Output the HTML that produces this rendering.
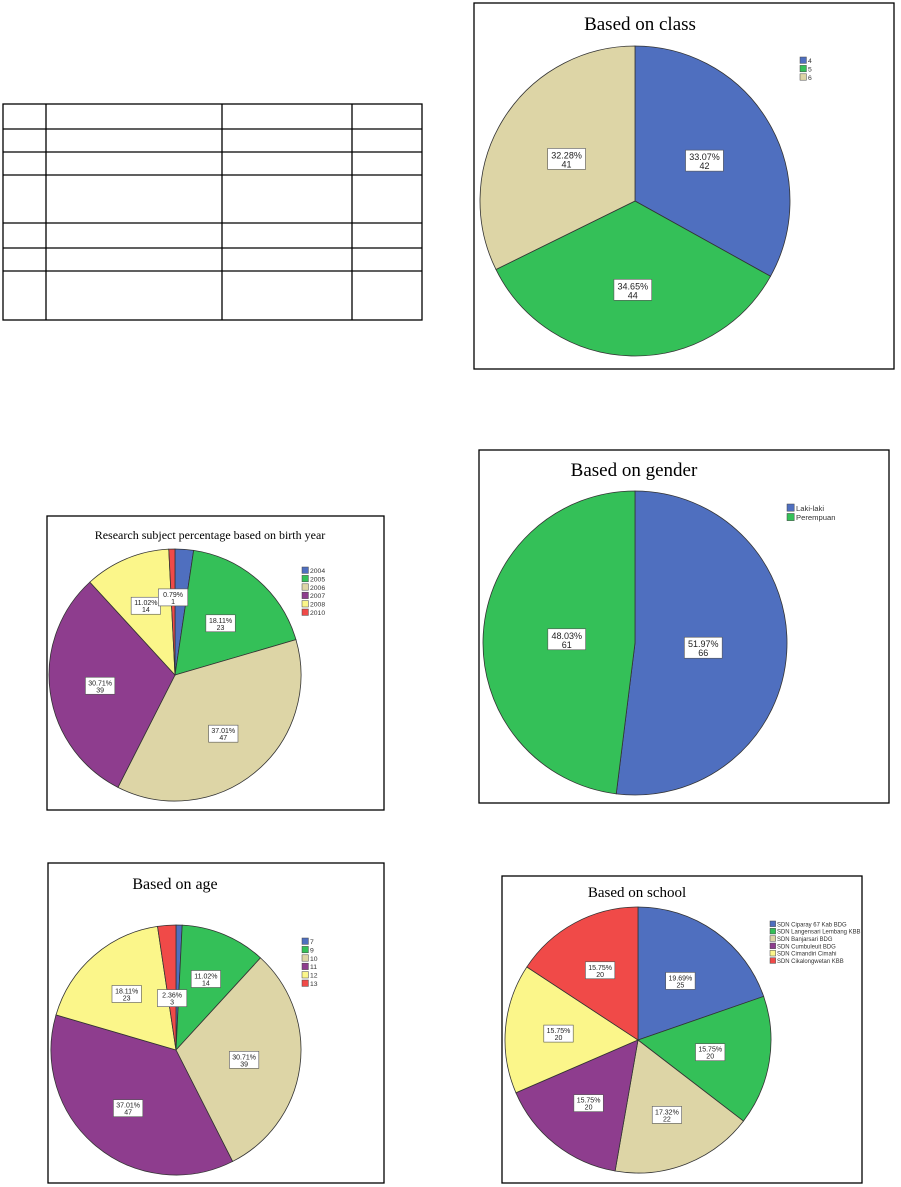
<!DOCTYPE html>
<html><head><meta charset="utf-8"><style>
body{margin:0;background:#fff;width:901px;height:1187px;overflow:hidden}
svg{position:absolute;left:0;top:0}
</style></head><body>
<svg id="s" width="901" height="1187" xmlns="http://www.w3.org/2000/svg" font-family="Liberation Sans, sans-serif">
<g stroke="#000" stroke-width="1.3" fill="none">
<rect x="3" y="104" width="419" height="216"/>
<line x1="3" y1="129" x2="422" y2="129"/><line x1="3" y1="152" x2="422" y2="152"/>
<line x1="3" y1="175" x2="422" y2="175"/><line x1="3" y1="223" x2="422" y2="223"/>
<line x1="3" y1="248" x2="422" y2="248"/><line x1="3" y1="271" x2="422" y2="271"/>
<line x1="46" y1="104" x2="46" y2="320"/><line x1="222" y1="104" x2="222" y2="320"/>
<line x1="352" y1="104" x2="352" y2="320"/>
<rect x="474" y="3" width="420" height="366"/>
<rect x="479" y="450" width="410" height="353"/>
<rect x="47" y="516" width="337" height="294"/>
<rect x="48" y="863" width="336" height="320"/>
<rect x="502" y="876" width="360" height="307"/>
</g>
<g font-family="Liberation Serif, serif" fill="#000">
<text x="640" y="30" font-size="19" text-anchor="middle">Based on class</text>
<text x="634" y="476" font-size="19" text-anchor="middle">Based on gender</text>
<text x="210" y="539" font-size="12" text-anchor="middle">Research subject percentage based on birth year</text>
<text x="175" y="889" font-size="16" text-anchor="middle">Based on age</text>
<text x="637" y="897" font-size="15" text-anchor="middle">Based on school</text>
</g>
<g id="p"></g>
</svg>
<script>
var C={b:"#4f6fbf",g:"#34c058",t:"#ddd5a6",p:"#8e3d8e",y:"#fbf68a",r:"#f04a48"};
var g=document.getElementById('p'),NS="http://www.w3.org/2000/svg";
function el(t,a,tx){var e=document.createElementNS(NS,t);for(var k in a)e.setAttribute(k,a[k]);if(tx)e.textContent=tx;g.appendChild(e);return e;}
function pie(cx,cy,r,sl,lf,lx,ly,leg,lfs){
 var tot=0;sl.forEach(function(s){tot+=s[0]});var a=0;
 sl.forEach(function(s){var a2=a+s[0]/tot*2*Math.PI;
  var x1=cx+r*Math.sin(a),y1=cy-r*Math.cos(a),x2=cx+r*Math.sin(a2),y2=cy-r*Math.cos(a2);
  el('path',{d:"M"+cx+","+cy+"L"+x1+","+y1+"A"+r+","+r+" 0 "+((a2-a)>Math.PI?1:0)+" 1 "+x2+","+y2+"Z",fill:C[s[1]],stroke:"#333","stroke-width":0.8});
  s.m=(a+a2)/2;a=a2;});
 sl.forEach(function(s){if(!s[2])return;var f=s[4]||0.55,mx=cx+r*f*Math.sin(s.m),my=cy-r*f*Math.cos(s.m);
  var w=lf*4.2;el('rect',{x:mx-w/2,y:my-lf-1,width:w,height:lf*2+3,fill:"#fff",stroke:"#555","stroke-width":0.6});
  el('text',{x:mx,y:my,"font-size":lf,"text-anchor":"middle",fill:"#222"},s[2]);
  el('text',{x:mx,y:my+lf,"font-size":lf,"text-anchor":"middle",fill:"#222"},s[3]);});
 leg.forEach(function(l,i){var yy=ly+i*lfs*1.05;el('rect',{x:lx,y:yy,width:lfs*0.8,height:lfs*0.8,fill:C[l[0]],stroke:"#444","stroke-width":0.5});
  el('text',{x:lx+lfs,y:yy+lfs*0.75,"font-size":lfs*0.85,fill:"#333"},l[1]);});
}
pie(635,201,155,[[42,'b','33.07%','42',0.52],[44,'g','34.65%','44',0.57],[41,'t','32.28%','41',0.52]],9,800,57,[['b','4'],['g','5'],['t','6']],8);
pie(635,643,152,[[66,'b','51.97%','66',0.45],[61,'g','48.03%','61',0.45]],9,787,504,[['b','Laki-laki'],['g','Perempuan']],9);
pie(175,675,126,[[3,'b','',''],[23,'g','18.11%','23'],[47,'t','37.01%','47',0.6],[39,'p','30.71%','39',0.6],[14,'y','11.02%','14',0.6],[1,'r','0.79%','1',0.62]],7,302,567,[['b','2004'],['g','2005'],['t','2006'],['p','2007'],['y','2008'],['r','2010']],8);
pie(176,1050,125,[[1,'b','',''],[14,'g','11.02%','14',0.62],[39,'t','30.71%','39'],[47,'p','37.01%','47',0.6],[23,'y','18.11%','23',0.6],[3,'r','2.36%','3',0.42]],7,302,938,[['b','7'],['g','9'],['t','10'],['p','11'],['y','12'],['r','13']],8);
pie(638,1040,133,[[25,'b','19.69%','25'],[20,'g','15.75%','20'],[22,'t','17.32%','22',0.6],[20,'p','15.75%','20',0.6],[20,'y','15.75%','20',0.6],[20,'r','15.75%','20',0.6]],7,770,921,[['b','SDN Ciparay 67 Kab BDG'],['g','SDN Langensari Lembang KBB'],['t','SDN Banjarsari BDG'],['p','SDN Cumbuleuit BDG'],['y','SDN Cimandiri Cimahi'],['r','SDN Cikalongwetan KBB']],7);
</script>
</body></html>
